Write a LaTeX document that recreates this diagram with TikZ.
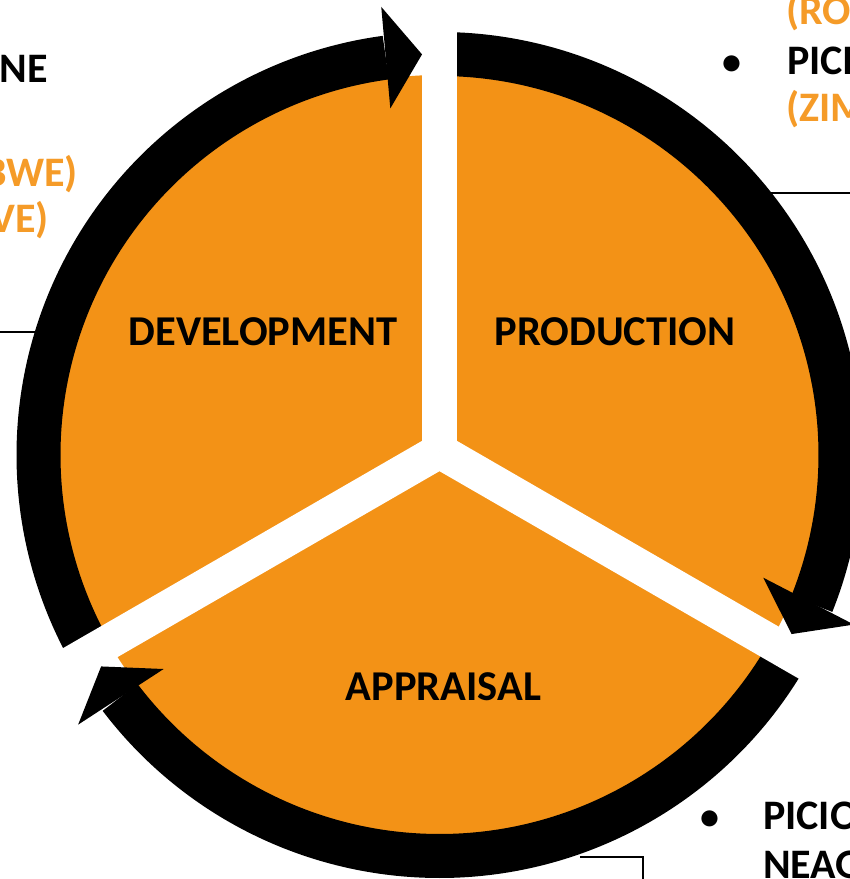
\documentclass[tikz,border=0pt]{standalone}
\usepackage{fontspec}
\setmainfont{Carlito}
\usetikzlibrary{calc}
\definecolor{fillor}{RGB}{243,146,22}
\definecolor{textor}{RGB}{245,155,40}
\begin{document}
\begin{tikzpicture}[x=1pt,y=1pt,
  sector/.style={font=\fontsize{42.5}{51}\selectfont\bfseries, inner sep=0, text=black},
  side/.style={font=\fontsize{42}{50}\selectfont\bfseries, inner sep=0, text=black},
  sideor/.style={side, text=textor},
  bulletmark/.style={font=\fontsize{38}{46}\selectfont\bfseries, inner sep=0, text=black},
  gapband/.style={line width=35, white},
  ringarc/.style={line width=44, black},
  leader/.style={line width=1.2, black},
  headfill/.style={fill=black},
]
\clip (0,0) rectangle (850,879);
\coordinate (O) at (439.5,424);
\coordinate (J) at (439.5,428);

% leader lines
\coordinate (l1) at (0,547);
\coordinate (l1e) at (80,547);
\draw[leader] (l1) -- (l1e);
\coordinate (l2) at (850,686);
\coordinate (l2e) at (760,686);
\draw[leader] (l2e) -- (l2);
\coordinate (l3a) at (580,22);
\coordinate (l3b) at (643,22);
\coordinate (l3c) at (643,-5);
\draw[leader] (l3a) -- (l3b) -- (l3c);

% orange disk
\fill[fillor] (O) circle[radius=380];

% ring arcs
\draw[ringarc] ($(O)+(210:401)$) arc[start angle=210, end angle=97.7, radius=401];
\draw[ringarc] ($(O)+(90:401)$) arc[start angle=90, end angle=-21.8, radius=401];
\draw[ringarc] ($(O)+(-30:401)$) arc[start angle=-30, end angle=-142.8, radius=401];

% white gaps
\coordinate (g1) at ($(J)+(90:520)$);
\coordinate (g2) at ($(J)+(210:520)$);
\coordinate (g3) at ($(J)+(330:520)$);
\draw[gapband] (J) -- (g1);
\draw[gapband] (J) -- (g2);
\draw[gapband] (J) -- (g3);

% arrowheads
\coordinate (t1) at ($(O)+(92.5:401)$);
\coordinate (b1) at ($(O)+(97.7:401)$);
\coordinate (t2) at ($(O)+(-26.96:395)$);
\coordinate (b2) at ($(O)+(-21.6:397)$);
\coordinate (t3) at ($(O)+(-148.0:399)$);
\coordinate (b3) at ($(O)+(-142.8:400)$);
\fill[headfill] (t1) -- ($(b1)!51pt!90:(t1)$) -- ($(b1)!51pt!-90:(t1)$) -- cycle;
\fill[headfill] (t2) -- ($(b2)!51pt!90:(t2)$) -- ($(b2)!51pt!-90:(t2)$) -- cycle;
\fill[headfill] (t3) -- ($(b3)!51pt!90:(t3)$) -- ($(b3)!51pt!-90:(t3)$) -- cycle;

% sector labels
\node[sector] (dev) at (263,547) {DEVELOPMENT};
\node[sector] (prod) at (615,547) {PRODUCTION};
\node[sector] (appr) at (443.5,192) {APPRAISAL};

% side texts
\node[side, anchor=base east] (ne) at (48,796) {NE};
\node[sideor, anchor=base east] (bwe) at (78,692) {BWE)};
\node[sideor, anchor=base east] (ve) at (49,646) {VE)};
\node[sideor, anchor=base west] (ro) at (786,854) {(RO};
\node[bulletmark, anchor=base] (bul1) at (732,804) {•};
\node[side, anchor=base west] (pici) at (787,804) {PICI};
\node[sideor, anchor=base west] (zim) at (786,757) {(ZIM};
\node[bulletmark, anchor=base] (bul2) at (710,49) {•};
\node[side, anchor=base west] (picio) at (763,49) {PICIO};
\node[side, anchor=base west] (neag) at (763,0.5) {NEAG};
\end{tikzpicture}
\end{document}
